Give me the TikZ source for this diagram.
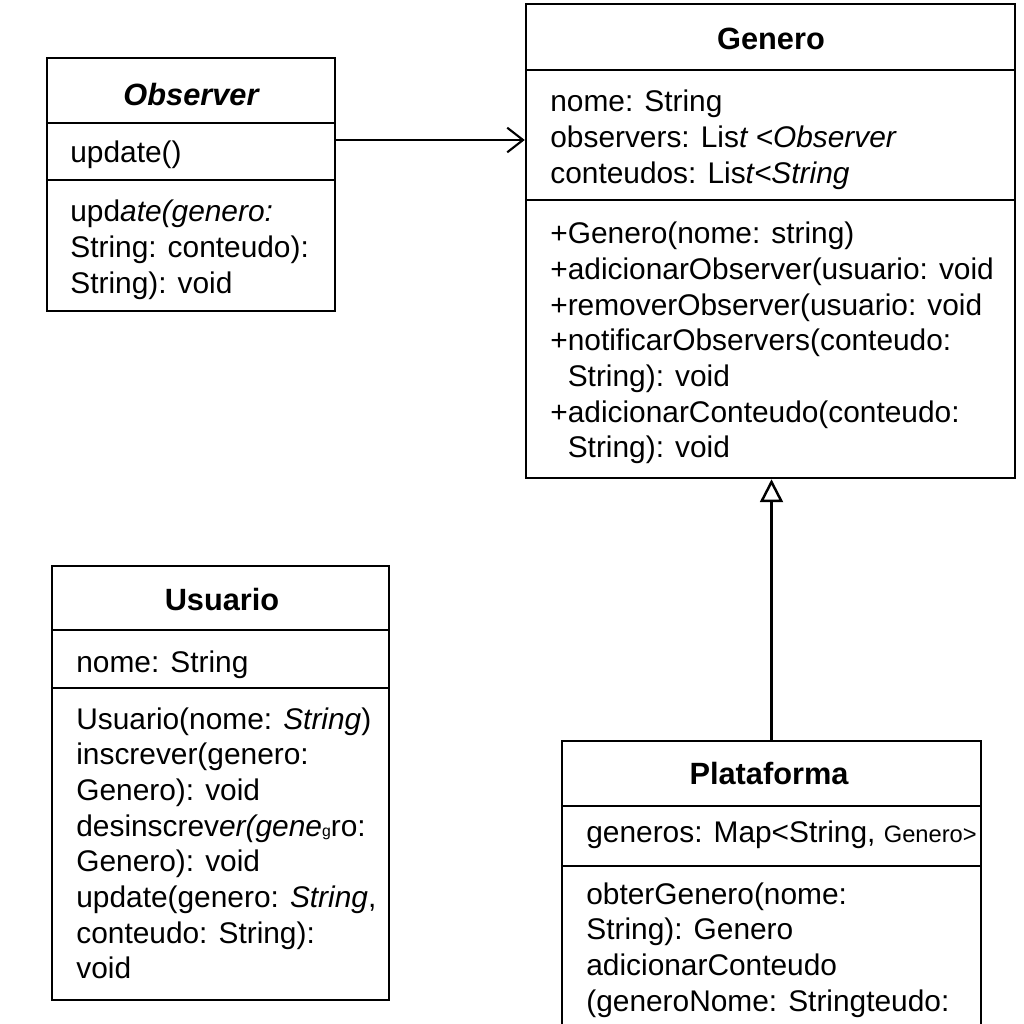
\documentclass[tikz,border=0pt]{standalone}
\usepackage{fontspec}
\setmainfont{Liberation Sans}
\usetikzlibrary{arrows.meta,fit}
\tikzset{
	classbox/.style={draw, line width=1.4pt, inner sep=0pt},
	divider/.style={line width=1.4pt},
	classname/.style={anchor=north, inner sep=0pt, font=\fontsize{17.5}{20}\selectfont\bfseries},
	members/.style={anchor=north west, align=left, inner sep=0pt, font=\fontsize{17}{20.3}\selectfont},
	assoc/.style={line width=1.2pt, -{Straight Barb[length=9pt,width=14pt]}},
	inherit/.style={line width=1.4pt, -{Triangle[open,length=13pt,width=13pt]}}
}

\begin{document}
\begin{tikzpicture}[x=0.02cm, y=-0.02cm]
			\clip (0,0) rectangle (1024,1024);
			\fill[white] (0,0) rectangle (1024,1024);
			
			\node[classbox, fit={(47,58) (335,311)}] (observer) {};
			\draw[divider] (observer.west |- 0,123) -- (observer.east |- 0,123);
			\draw[divider] (observer.west |- 0,180) -- (observer.east |- 0,180);
			\node[classname] (observertitle) at (191,83) {\itshape Observer};
			\node[members] (observerattr) at (70,141) {update()};
			\node[members] (observerops) at (70,200) {upd\textit{ate(genero:}\\String: conteudo):\\String): void};
			
			\node[classbox, fit={(526,4) (1015,478)}] (genero) {};
			\draw[divider] (genero.west |- 0,70) -- (genero.east |- 0,70);
			\draw[divider] (genero.west |- 0,200) -- (genero.east |- 0,200);
			\node[classname] (generotitle) at (771,28) {Genero};
			\node[members] (generoattr) at (550,90) {nome: String\\observers: Lis\textit{t <Observer}\\conteudos: Lis\textit{t<String}};
			\node[members] (generoops) at (550,222) {+Genero(nome: string)\\+adicionarObserver(usuario: void\\+removerObserver(usuario: void\\+notificarObservers(conteudo:\\\phantom{+}String): void\\+adicionarConteudo(conteudo:\\\phantom{+}String): void};
			
			\node[classbox, fit={(52,566) (389,1000)}] (usuario) {};
			\draw[divider] (usuario.west |- 0,630) -- (usuario.east |- 0,630);
			\draw[divider] (usuario.west |- 0,688) -- (usuario.east |- 0,688);
			\node[classname] (usuariotitle) at (222,588) {Usuario};
			\node[members] (usuarioattr) at (76,650) {nome: String};
			\node[members] (usuarioops) at (76,707) {Usuario(nome: \textit{String})\\inscrever(genero:\\Genero): void\\desinscrev\textit{er(gene}{\small g}ro:\\Genero): void\\update(genero: \textit{String},\\conteudo: String):\\void};
			
			\node[classbox, fit={(562,741) (981,1060)}] (plataforma) {};
			\draw[divider] (plataforma.west |- 0,806) -- (plataforma.east |- 0,806);
			\draw[divider] (plataforma.west |- 0,866) -- (plataforma.east |- 0,866);
			\node[classname] (plataformatitle) at (769,762) {Plataforma};
			\node[members] (plataformaattr) at (586,820) {generos: Map<String, {\fontsize{13.5}{16}\selectfont Genero>}};
			\node[members] (plataformaops) at (586,882) {obterGenero(nome:\\String): Genero\\adicionarConteudo\\(generoNome: Stringteudo:};
			
			\draw[assoc] (observer.east |- 0,140) -- (genero.west |- 0,140);
			\draw[inherit] (plataforma.north) -- (plataforma.north |- genero.south);
\end{tikzpicture}
\end{document}
